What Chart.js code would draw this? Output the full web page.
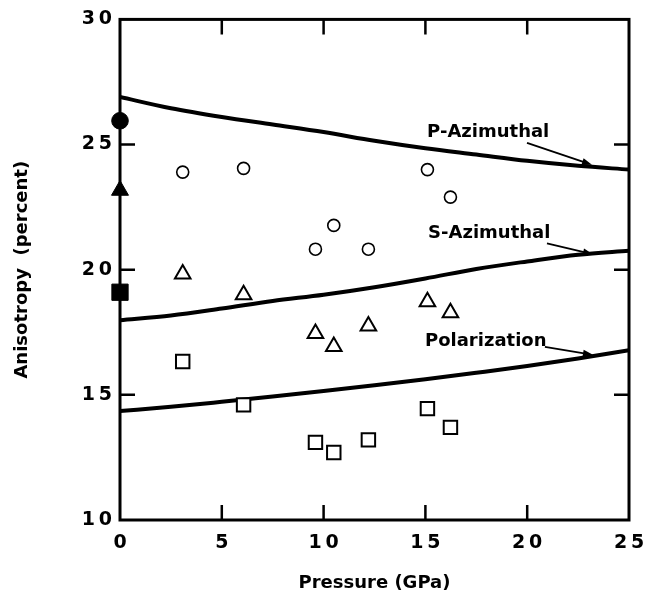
<!DOCTYPE html>
<html>
<head>
<meta charset="utf-8">
<script src="https://cdn.jsdelivr.net/npm/chart.js@4"></script>
<style>
  html, body { margin: 0; padding: 0; background: #fff; }
  canvas { display: block; }
</style>
</head>
<body>
<canvas id="myChart" width="657" height="597"></canvas>
<script>
// measured points (open symbols), same pressures for the three sets
var obsPressure = [3.08, 6.07, 9.6, 10.5, 12.2, 15.1, 16.23];
var pAzimuthalObs = [23.9, 24.05, 20.82, 21.77, 20.82, 24.0, 22.9];
var sAzimuthalObs = [19.83, 19.0, 17.45, 16.93, 17.75, 18.72, 18.28];
var polarizationObs = [16.33, 14.6, 13.1, 12.7, 13.2, 14.45, 13.7];

// zero pressure values (filled symbols)
var zeroPressure = [0];
var pAzimuthalZero = [25.95];
var sAzimuthalZero = [23.17];
var polarizationZero = [19.1];

// model curves
var curvePressure = [0, 2.5, 5, 7.5, 10, 12.5, 15, 17.5, 20, 22.5, 25];
var pAzimuthalFit = [26.9, 26.45, 26.1, 25.8, 25.5, 25.15, 24.85, 24.6, 24.35, 24.15, 24.0];
var sAzimuthalFit = [17.98, 18.17, 18.45, 18.75, 19.0, 19.3, 19.65, 20.03, 20.33, 20.6, 20.76];
var polarizationFit = [14.35, 14.52, 14.72, 14.93, 15.15, 15.38, 15.62, 15.88, 16.15, 16.45, 16.78];

// curve labels with their arrows (data units)
var curveLabels = ['P-Azimuthal', 'S-Azimuthal', 'Polarization'];
var labelAt = [[15.08, 25.31], [15.13, 21.25], [14.98, 16.96]];
var arrowFrom = [[19.99, 25.07], [20.97, 21.05], [20.87, 16.92]];
var arrowTo = [[23.18, 24.19], [23.23, 20.62], [23.23, 16.6]];

var xTickValues = [0, 5, 10, 15, 20, 25];
var yTickValues = [10, 15, 20, 25, 30];

function pairs(xs, ys) {
    return xs.map(function (v, i) { return {x: v, y: ys[i]}; });
}

function spaced(value) {
    return String(value).split('').join('\u2009');
}

var tickFont = {family: 'DejaVu Sans', weight: 'bold', size: 19};
var titleFont = {family: 'DejaVu Sans', weight: 'bold', size: 18};

function curve(ys) {
    return {
        type: 'line',
        data: pairs(curvePressure, ys),
        borderColor: '#000',
        borderWidth: 4,
        pointRadius: 0,
        fill: false,
        cubicInterpolationMode: 'monotone'
    };
}

function marks(xs, ys, style, radius, filled, width) {
    return {
        type: 'scatter',
        data: pairs(xs, ys),
        pointStyle: style,
        pointRadius: radius,
        pointBorderWidth: width,
        pointBorderColor: '#000',
        pointBackgroundColor: filled ? '#000' : '#fff',
        clip: false
    };
}

// frame with inward ticks, and the curve labels
var framePlugin = {
    id: 'frame',
    beforeDatasetsDraw: function (chart) {
        var ctx = chart.ctx, a = chart.chartArea;
        var xs = chart.scales.x, ys = chart.scales.y;
        ctx.save();
        ctx.strokeStyle = '#000';
        ctx.lineWidth = 3;
        ctx.strokeRect(a.left, a.top, a.right - a.left, a.bottom - a.top);
        ctx.lineWidth = 2.5;
        ctx.beginPath();
        xs.ticks.forEach(function (t) {
            if (t.value <= xs.min || t.value >= xs.max) return;
            var px = xs.getPixelForValue(t.value);
            ctx.moveTo(px, a.bottom); ctx.lineTo(px, a.bottom - 15);
            ctx.moveTo(px, a.top); ctx.lineTo(px, a.top + 15);
        });
        ys.ticks.forEach(function (t) {
            if (t.value <= ys.min || t.value >= ys.max) return;
            var py = ys.getPixelForValue(t.value);
            ctx.moveTo(a.left, py); ctx.lineTo(a.left + 15, py);
            ctx.moveTo(a.right, py); ctx.lineTo(a.right - 15, py);
        });
        ctx.stroke();
        ctx.restore();
    },
    afterDatasetsDraw: function (chart) {
        var ctx = chart.ctx;
        var xs = chart.scales.x, ys = chart.scales.y;
        ctx.save();
        ctx.fillStyle = '#000';
        ctx.strokeStyle = '#000';
        ctx.font = 'bold 18px "DejaVu Sans"';
        ctx.textBaseline = 'alphabetic';
        for (var i = 0; i < curveLabels.length; i++) {
            ctx.fillText(curveLabels[i], xs.getPixelForValue(labelAt[i][0]), ys.getPixelForValue(labelAt[i][1]));
            var x0 = xs.getPixelForValue(arrowFrom[i][0]), y0 = ys.getPixelForValue(arrowFrom[i][1]);
            var x1 = xs.getPixelForValue(arrowTo[i][0]), y1 = ys.getPixelForValue(arrowTo[i][1]);
            var ang = Math.atan2(y1 - y0, x1 - x0);
            ctx.lineWidth = 1.8;
            ctx.beginPath();
            ctx.moveTo(x0, y0);
            ctx.lineTo(x1 - 6 * Math.cos(ang), y1 - 6 * Math.sin(ang));
            ctx.stroke();
            ctx.beginPath();
            ctx.moveTo(x1, y1);
            ctx.lineTo(x1 - 10 * Math.cos(ang) + 3.5 * Math.sin(ang), y1 - 10 * Math.sin(ang) - 3.5 * Math.cos(ang));
            ctx.lineTo(x1 - 10 * Math.cos(ang) - 3.5 * Math.sin(ang), y1 - 10 * Math.sin(ang) + 3.5 * Math.cos(ang));
            ctx.closePath();
            ctx.fill();
        }
        ctx.restore();
    }
};

var config = {
    type: 'scatter',
    data: {
        datasets: [
            marks(zeroPressure, pAzimuthalZero, 'circle', 8.3, true, 1),
            marks(zeroPressure, sAzimuthalZero, 'triangle', 9.8, true, 1),
            marks(zeroPressure, polarizationZero, 'rect', 11.5, true, 1),
            marks(obsPressure, pAzimuthalObs, 'circle', 6, false, 1.6),
            marks(obsPressure, sAzimuthalObs, 'triangle', 9, false, 2),
            marks(obsPressure, polarizationObs, 'rect', 9.5, false, 2),
            curve(pAzimuthalFit),
            curve(sAzimuthalFit),
            curve(polarizationFit)
        ]
    },
    options: {
        responsive: false,
        animation: false,
        devicePixelRatio: 1,
        layout: {padding: {top: 17, right: 28, bottom: 0, left: 0}},
        plugins: {legend: {display: false}, tooltip: {enabled: false}},
        scales: {
            x: {
                type: 'linear',
                min: 0, max: 25,
                afterBuildTicks: function (s) { s.ticks = xTickValues.map(function (v) { return {value: v}; }); },
                afterFit: function (s) { s.height = 77; },
                grid: {display: false, drawTicks: false},
                border: {display: false},
                ticks: {color: '#000', font: tickFont, padding: 12, maxRotation: 0, callback: spaced},
                title: {display: true, text: 'Pressure (GPa)', color: '#000', font: titleFont, padding: {top: 0, bottom: 3}}
            },
            y: {
                type: 'linear',
                min: 10, max: 30,
                afterBuildTicks: function (s) { s.ticks = yTickValues.map(function (v) { return {value: v}; }); },
                afterFit: function (s) { s.width = 120; },
                grid: {display: false, drawTicks: false},
                border: {display: false},
                ticks: {color: '#000', font: tickFont, padding: 8, callback: spaced},
                title: {display: true, text: 'Anisotropy  (percent)', color: '#000', font: titleFont, padding: {top: 12, bottom: 0}}
            }
        }
    },
    plugins: [framePlugin]
};

var ctx = document.getElementById('myChart').getContext('2d');
var myChart = new Chart(ctx, config);
</script>
</body>
</html>
